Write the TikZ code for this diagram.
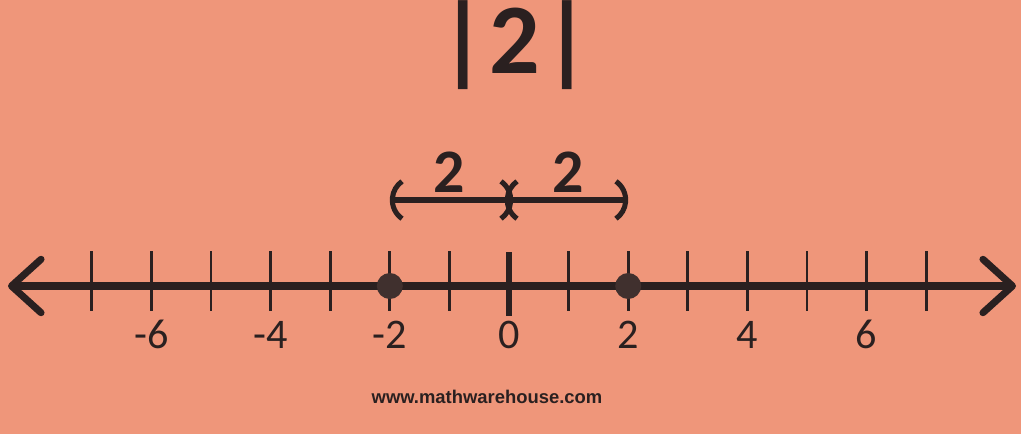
\documentclass[tikz,border=0pt]{standalone}
\usepackage{fontspec}
\setmainfont{Carlito}
\newfontfamily\webfont{Liberation Sans}
\usetikzlibrary{arrows.meta, positioning, calc}

\definecolor{salmonbg}{RGB}{239,150,122}
\definecolor{inkdark}{RGB}{42,32,32}
\definecolor{dotgray}{RGB}{64,48,46}

\begin{document}
\begin{tikzpicture}[
    x=0.025cm, y=-0.025cm,
    axisline/.style={draw=inkdark, line width=5pt,
        {Straight Barb[round, length=21pt, width=38pt]}-{Straight Barb[round, length=21pt, width=38pt]}},
    tickmark/.style={draw=inkdark, line width=2pt},
    zerotick/.style={draw=inkdark, line width=3.6pt},
    ticklabel/.style={anchor=base, text=inkdark, font=\fontsize{30}{34}\selectfont},
    dot/.style={circle, fill=dotgray, minimum size=0.65cm, inner sep=0pt},
    span/.style={draw=inkdark, line width=3.6pt,
        {Arc Barb[arc=110, length=18pt, width=36pt]}-{Arc Barb[arc=110, length=18pt, width=36pt]}},
    spanlabel/.style={anchor=base, text=inkdark, font=\bfseries\fontsize{44}{48}\selectfont},
]

% ===== Layout =====
% 1 unit on the number line = 59.6px, picture is 1021 x 434 px
\def\unit{59.6}
\def\xO{509}    % x of the 0 tick
\def\yAx{286}   % y of the axis
\def\xT#1{\xO + #1*\unit}

% ===== Background =====
\fill[salmonbg] (0,0) rectangle (1021,434);
\useasboundingbox (0,0) rectangle (1021,434);

% ===== Title =====
\node[anchor=base, text=inkdark, font=\bfseries\fontsize{71}{80}\selectfont]
    (title) at (515,73) {|\kern2pt2\kern2pt|};

% ===== Number line =====
\coordinate (axL) at (8,\yAx);
\coordinate (axR) at (1016,\yAx);
\draw[axisline] (axL) -- (axR);

% ticks -7..7, the 0 tick heavier
\foreach \k in {-7,-6,-5,-4,-3,-2,-1,1,2,3,4,5,6,7} {
    \draw[tickmark] ({\xT{\k}}, 251) -- ({\xT{\k}}, 311);
}
\draw[zerotick] ({\xT{0}}, 252) -- ({\xT{0}}, 316);

% labels on even ticks
\foreach \k in {-6,-4,-2,0,2,4,6} {
    \node[ticklabel] (lab\k) at ({\xT{\k}}, 348) {\k};
}

% points at -2 and 2
\node[dot] (ptm) at ({\xT{-2}}, \yAx) {};
\node[dot] (ptp) at ({\xT{2}}, \yAx) {};

% ===== Distance spans above the line =====
\coordinate (spanL) at ({\xT{-2}}, 200);
\coordinate (spanM) at ({\xT{0}}, 200);
\coordinate (spanR) at ({\xT{2}}, 200);
\draw[span, shorten >=-3pt] (spanL) -- (spanM);   % the two arcs meet at 0
\draw[span, shorten <=-3pt] (spanM) -- (spanR);

\node[spanlabel] (distL) at ($(spanL)!0.5!(spanM) + (0,-8)$) {2};
\node[spanlabel] (distR) at ($(spanM)!0.5!(spanR) + (0,-8)$) {2};

% ===== Source =====
\node[text=inkdark, font=\webfont\bfseries\fontsize{13.1}{16}\selectfont]
    (source) at (487,397) {www.mathwarehouse.com};

\end{tikzpicture}
\end{document}
